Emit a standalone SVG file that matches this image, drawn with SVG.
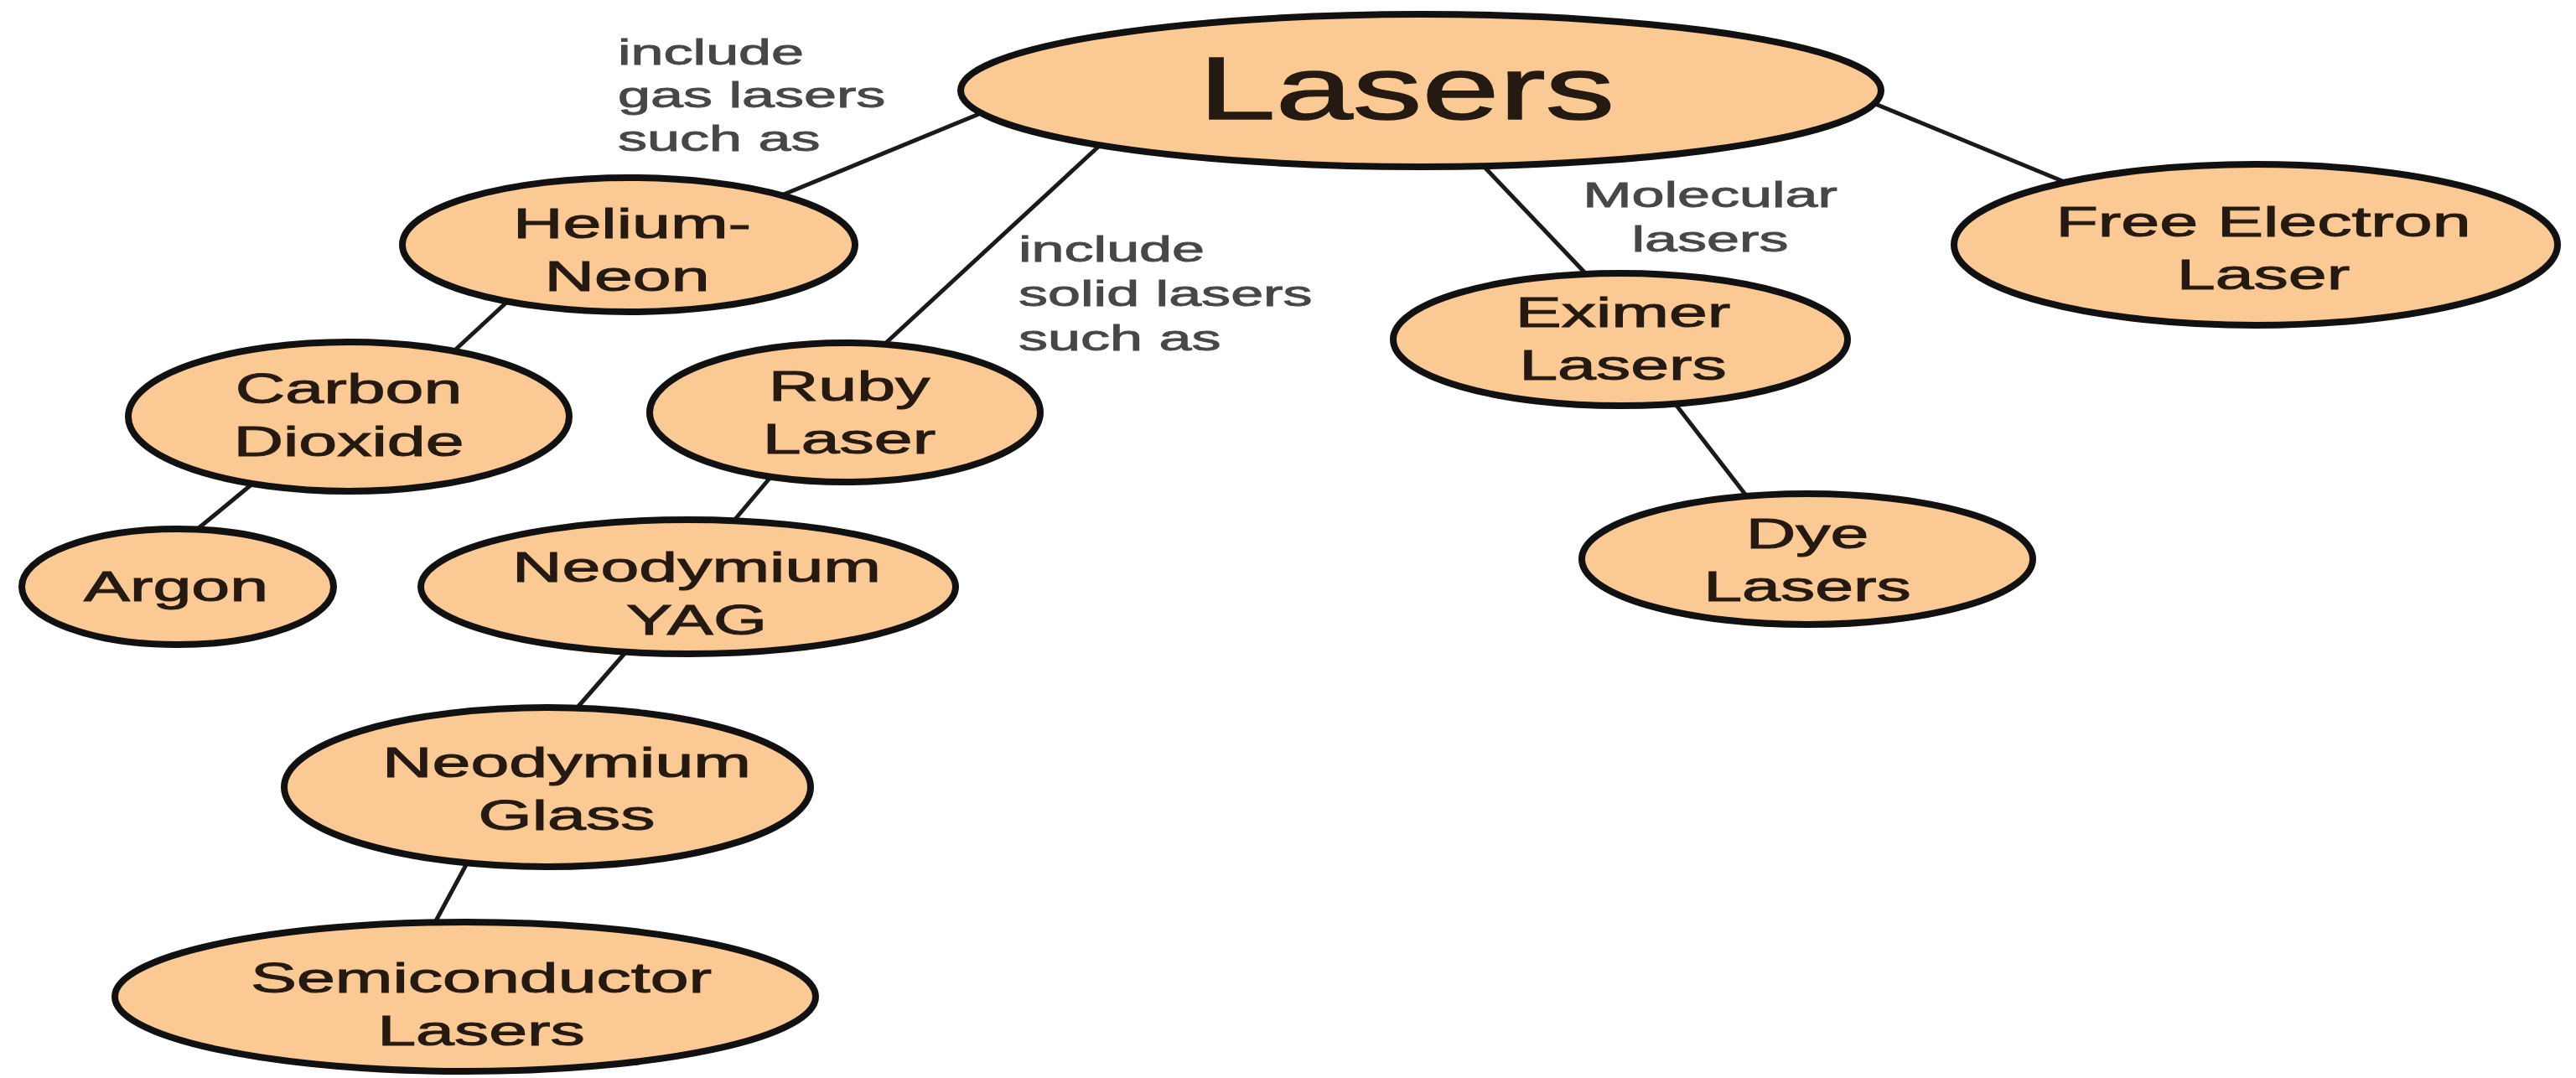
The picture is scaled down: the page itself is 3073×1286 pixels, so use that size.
<svg xmlns="http://www.w3.org/2000/svg" width="3073" height="1286" viewBox="0 0 3073 1286">
<style>
.node ellipse{fill:#FBC994;stroke:#111;stroke-width:8}
.node text{font-family:"Liberation Sans",Arial,sans-serif;font-size:50px;fill:#241a12;stroke:#241a12;stroke-width:1;text-anchor:middle}
.big{font-size:106px !important;stroke-width:1.5 !important}
.lbl{font-family:"Liberation Sans",Arial,sans-serif;font-size:43px;fill:#474747;stroke:#474747;stroke-width:0.9}
#connectors line{stroke:#1a1a1a;stroke-width:5}
</style>
<rect width="3073" height="1286" fill="#fff"/>
<g id="connectors">
<line x1="1180" y1="131" x2="925" y2="236"/>
<line x1="1320" y1="166" x2="1045" y2="420"/>
<line x1="1762" y1="190" x2="1897" y2="332"/>
<line x1="2225" y1="119" x2="2470" y2="220"/>
<line x1="605" y1="360" x2="538" y2="422"/>
<line x1="300" y1="578" x2="220" y2="644"/>
<line x1="922" y1="566" x2="868" y2="630"/>
<line x1="750" y1="774" x2="680" y2="854"/>
<line x1="558" y1="1028" x2="517" y2="1104"/>
<line x1="1994" y1="476" x2="2086" y2="595"/>
</g>
<g id="labels">
<g transform="translate(737,77) scale(1.63,1)"><text class="lbl">include</text></g>
<g transform="translate(737,128) scale(1.63,1)"><text class="lbl">gas lasers</text></g>
<g transform="translate(737,180) scale(1.63,1)"><text class="lbl">such as</text></g>
<g transform="translate(1215,312) scale(1.63,1)"><text class="lbl">include</text></g>
<g transform="translate(1215,365) scale(1.63,1)"><text class="lbl">solid lasers</text></g>
<g transform="translate(1215,418) scale(1.63,1)"><text class="lbl">such as</text></g>
<g transform="translate(2040,247) scale(1.63,1)"><text class="lbl" text-anchor="middle">Molecular</text></g>
<g transform="translate(2040,300) scale(1.63,1)"><text class="lbl" text-anchor="middle">lasers</text></g>
</g>
<g id="n-lasers" class="node">
<ellipse cx="1695" cy="108" rx="549" ry="91"/>
<g transform="translate(1678,142) scale(1.56,1)"><text class="big">Lasers</text></g>
</g>
<g id="n-helium" class="node">
<ellipse cx="750" cy="292" rx="270" ry="80"/>
<g transform="translate(754,284) scale(1.65,1)"><text>Helium-</text></g>
<g transform="translate(748,347) scale(1.65,1)"><text>Neon</text></g>
</g>
<g id="n-carbon" class="node">
<ellipse cx="416" cy="497" rx="263" ry="89"/>
<g transform="translate(416,481) scale(1.65,1)"><text>Carbon</text></g>
<g transform="translate(416,544) scale(1.65,1)"><text>Dioxide</text></g>
</g>
<g id="n-argon" class="node">
<ellipse cx="212" cy="700" rx="186" ry="69"/>
<g transform="translate(210,717) scale(1.65,1)"><text>Argon</text></g>
</g>
<g id="n-ruby" class="node">
<ellipse cx="1008" cy="492" rx="233" ry="83"/>
<g transform="translate(1013,478) scale(1.65,1)"><text>Ruby</text></g>
<g transform="translate(1013,541) scale(1.65,1)"><text>Laser</text></g>
</g>
<g id="n-ndyag" class="node">
<ellipse cx="821" cy="700" rx="319" ry="80"/>
<g transform="translate(831,694) scale(1.65,1)"><text>Neodymium</text></g>
<g transform="translate(831,757) scale(1.65,1)"><text>YAG</text></g>
</g>
<g id="n-ndglass" class="node">
<ellipse cx="653" cy="939" rx="314" ry="95"/>
<g transform="translate(676,927) scale(1.65,1)"><text>Neodymium</text></g>
<g transform="translate(676,990) scale(1.65,1)"><text>Glass</text></g>
</g>
<g id="n-semi" class="node">
<ellipse cx="555" cy="1189" rx="418" ry="89"/>
<g transform="translate(574,1184) scale(1.65,1)"><text>Semiconductor</text></g>
<g transform="translate(574,1247) scale(1.65,1)"><text>Lasers</text></g>
</g>
<g id="n-eximer" class="node">
<ellipse cx="1933" cy="405" rx="271" ry="79"/>
<g transform="translate(1936,390) scale(1.65,1)"><text>Eximer</text></g>
<g transform="translate(1936,453) scale(1.65,1)"><text>Lasers</text></g>
</g>
<g id="n-dye" class="node">
<ellipse cx="2156" cy="667" rx="269" ry="78"/>
<g transform="translate(2156,654) scale(1.65,1)"><text>Dye</text></g>
<g transform="translate(2156,717) scale(1.65,1)"><text>Lasers</text></g>
</g>
<g id="n-fel" class="node">
<ellipse cx="2691" cy="292" rx="360" ry="96"/>
<g transform="translate(2700,282) scale(1.65,1)"><text>Free Electron</text></g>
<g transform="translate(2700,345) scale(1.65,1)"><text>Laser</text></g>
</g>
</svg>
